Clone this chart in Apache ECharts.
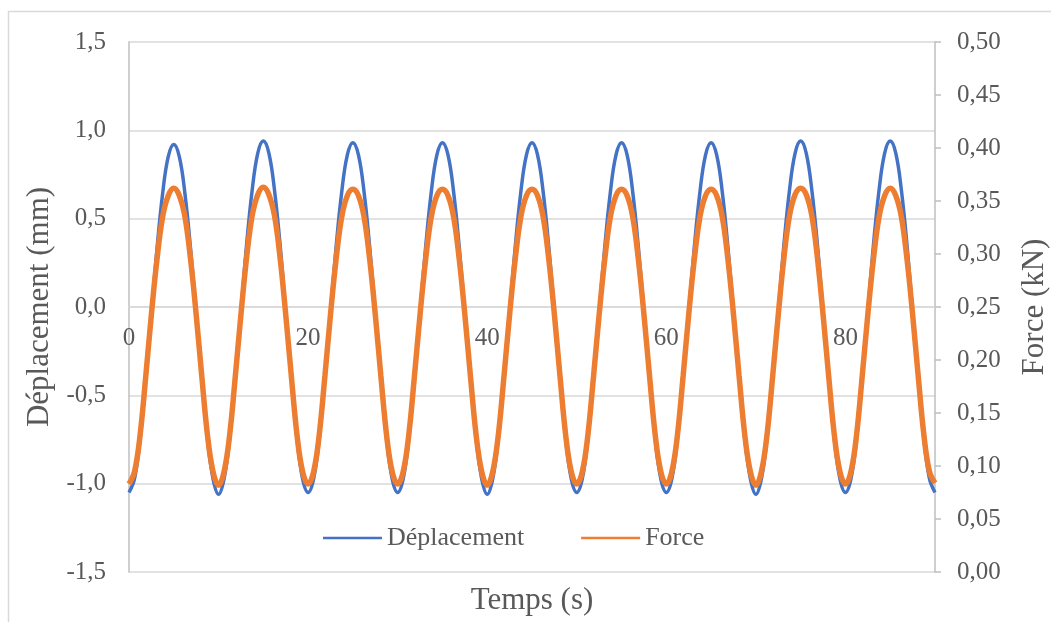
<!DOCTYPE html>
<html>
<head>
<meta charset="utf-8">
<script src="https://cdn.jsdelivr.net/npm/echarts@6/dist/echarts.min.js"></script>
<style>
html,body{margin:0;padding:0;background:#fff;}
#c{width:1051px;height:622px;}
</style>
</head>
<body>
<div id="c"></div>
<script>
// Time (s)
const time = [
  0, 0.625, 1.25, 1.875, 2.5, 3.125, 3.75, 4.375, 5, 5.625, 6.25, 6.875, 7.5, 8.125, 8.75, 9.375,
  10, 10.625, 11.25, 11.875, 12.5, 13.125, 13.75, 14.375, 15, 15.625, 16.25, 16.875, 17.5, 18.125, 18.75, 19.375,
  20, 20.625, 21.25, 21.875, 22.5, 23.125, 23.75, 24.375, 25, 25.625, 26.25, 26.875, 27.5, 28.125, 28.75, 29.375,
  30, 30.625, 31.25, 31.875, 32.5, 33.125, 33.75, 34.375, 35, 35.625, 36.25, 36.875, 37.5, 38.125, 38.75, 39.375,
  40, 40.625, 41.25, 41.875, 42.5, 43.125, 43.75, 44.375, 45, 45.625, 46.25, 46.875, 47.5, 48.125, 48.75, 49.375,
  50, 50.625, 51.25, 51.875, 52.5, 53.125, 53.75, 54.375, 55, 55.625, 56.25, 56.875, 57.5, 58.125, 58.75, 59.375,
  60, 60.625, 61.25, 61.875, 62.5, 63.125, 63.75, 64.375, 65, 65.625, 66.25, 66.875, 67.5, 68.125, 68.75, 69.375,
  70, 70.625, 71.25, 71.875, 72.5, 73.125, 73.75, 74.375, 75, 75.625, 76.25, 76.875, 77.5, 78.125, 78.75, 79.375,
  80, 80.625, 81.25, 81.875, 82.5, 83.125, 83.75, 84.375, 85, 85.625, 86.25, 86.875, 87.5, 88.125, 88.75, 89.375,
  90
];
// Déplacement (mm)
const deplacement = [
  -1.05, -0.97, -0.74, -0.40, -0.04, 0.33, 0.64, 0.85, 0.92, 0.85, 0.64, 0.33, -0.04, -0.40, -0.74, -0.97,
  -1.06, -0.97, -0.74, -0.40, -0.03, 0.35, 0.66, 0.87, 0.94, 0.87, 0.66, 0.35, -0.03, -0.40, -0.74, -0.97,
  -1.05, -0.97, -0.74, -0.40, -0.03, 0.34, 0.65, 0.86, 0.93, 0.86, 0.65, 0.34, -0.03, -0.40, -0.74, -0.97,
  -1.05, -0.97, -0.74, -0.40, -0.03, 0.34, 0.65, 0.86, 0.93, 0.86, 0.65, 0.34, -0.03, -0.40, -0.74, -0.97,
  -1.06, -0.97, -0.74, -0.40, -0.03, 0.34, 0.65, 0.86, 0.93, 0.86, 0.65, 0.34, -0.03, -0.40, -0.74, -0.97,
  -1.05, -0.97, -0.74, -0.40, -0.03, 0.34, 0.65, 0.86, 0.93, 0.86, 0.65, 0.34, -0.03, -0.40, -0.74, -0.97,
  -1.05, -0.97, -0.74, -0.40, -0.03, 0.34, 0.65, 0.86, 0.93, 0.86, 0.65, 0.34, -0.03, -0.40, -0.74, -0.97,
  -1.06, -0.97, -0.74, -0.40, -0.03, 0.35, 0.66, 0.87, 0.94, 0.87, 0.66, 0.35, -0.03, -0.40, -0.74, -0.97,
  -1.05, -0.97, -0.74, -0.40, -0.03, 0.35, 0.66, 0.87, 0.94, 0.87, 0.66, 0.35, -0.03, -0.40, -0.74, -0.97,
  -1.05
];
// Force (kN)
const force = [
  0.083, 0.095, 0.130, 0.185, 0.243, 0.295, 0.335, 0.355, 0.362, 0.355, 0.335, 0.295, 0.243, 0.185, 0.130, 0.095,
  0.082, 0.095, 0.130, 0.185, 0.243, 0.296, 0.336, 0.356, 0.363, 0.356, 0.336, 0.296, 0.243, 0.185, 0.130, 0.095,
  0.083, 0.095, 0.130, 0.185, 0.243, 0.295, 0.335, 0.355, 0.361, 0.355, 0.335, 0.295, 0.243, 0.185, 0.130, 0.095,
  0.083, 0.095, 0.130, 0.185, 0.243, 0.295, 0.335, 0.355, 0.361, 0.355, 0.335, 0.295, 0.243, 0.185, 0.130, 0.095,
  0.082, 0.095, 0.130, 0.185, 0.243, 0.295, 0.335, 0.355, 0.361, 0.355, 0.335, 0.295, 0.243, 0.185, 0.130, 0.095,
  0.083, 0.095, 0.130, 0.185, 0.243, 0.295, 0.335, 0.355, 0.361, 0.355, 0.335, 0.295, 0.243, 0.185, 0.130, 0.095,
  0.083, 0.095, 0.130, 0.185, 0.243, 0.295, 0.335, 0.355, 0.361, 0.355, 0.335, 0.295, 0.243, 0.185, 0.130, 0.095,
  0.082, 0.095, 0.130, 0.185, 0.243, 0.296, 0.336, 0.356, 0.362, 0.356, 0.336, 0.296, 0.243, 0.185, 0.130, 0.095,
  0.083, 0.095, 0.130, 0.185, 0.243, 0.295, 0.335, 0.355, 0.362, 0.355, 0.335, 0.295, 0.243, 0.185, 0.130, 0.095,
  0.084
];
const xTicks = { min: 0, max: 90, interval: 20 };
const leftTicks = { min: -1.5, max: 1.5, interval: 0.5 };
const rightTicks = { min: 0, max: 0.5, interval: 0.05 };

const FONT = "'Liberation Serif', 'Times New Roman', serif";
const TXT = '#595959';

const chart = echarts.init(document.getElementById('c'), null, { renderer: 'canvas' });
chart.setOption({
  animation: false,
  backgroundColor: '#ffffff',
  textStyle: { fontFamily: FONT },
  graphic: [{
    type: 'rect', silent: true, z: -1,
    shape: { x: 8.5, y: 11.5, width: 1200, height: 800 },
    style: { fill: 'none', stroke: '#d9d9d9', lineWidth: 1.5 }
  }],
  grid: { left: 129, right: 116, top: 42, bottom: 50, containLabel: false, outerBoundsMode: 'none' },
  legend: {
    left: 318, top: 520,
    itemWidth: 59, itemHeight: 14, itemGap: 57,
    icon: 'path://M0,6 L59,6 L59,8.5 L0,8.5 Z',
    textStyle: { fontFamily: FONT, fontSize: 26, color: TXT },
    data: ['Déplacement', 'Force']
  },
  xAxis: {
    type: 'value', min: xTicks.min, max: xTicks.max, interval: xTicks.interval,
    position: 'bottom', offset: -265,
    name: 'Temps (s)', nameLocation: 'middle', nameGap: 278,
    nameTextStyle: { fontFamily: FONT, fontSize: 31, color: TXT },
    axisLine: { onZero: false, lineStyle: { color: '#d9d9d9', width: 1.5 } },
    axisTick: { show: false },
    splitLine: { show: false },
    axisLabel: { showMaxLabel: false, fontFamily: FONT, fontSize: 25, color: TXT, margin: 19 }
  },
  yAxis: [{
    type: 'value', min: leftTicks.min, max: leftTicks.max, interval: leftTicks.interval,
    position: 'left',
    name: 'Déplacement (mm)', nameLocation: 'middle', nameRotate: 90, nameGap: 67,
    nameTextStyle: { fontFamily: FONT, fontSize: 31, color: TXT },
    axisLine: { show: true, onZero: false, lineStyle: { color: '#bfbfbf', width: 1.5 } },
    axisTick: { show: false },
    splitLine: { show: true, lineStyle: { color: '#d9d9d9', width: 1.5 } },
    axisLabel: { fontFamily: FONT, fontSize: 25, color: TXT, margin: 23,
      formatter: v => v.toFixed(1).replace('.', ',') }
  }, {
    type: 'value', min: rightTicks.min, max: rightTicks.max, interval: rightTicks.interval,
    position: 'right',
    name: 'Force (kN)', nameLocation: 'middle', nameRotate: 90, nameGap: 84,
    nameTextStyle: { fontFamily: FONT, fontSize: 31, color: TXT },
    axisLine: { show: true, onZero: false, lineStyle: { color: '#bfbfbf', width: 1.5 } },
    axisTick: { show: true, inside: false, length: 6, lineStyle: { color: '#bfbfbf', width: 1.5 } },
    splitLine: { show: false },
    axisLabel: { fontFamily: FONT, fontSize: 25, color: TXT, margin: 22,
      formatter: v => v.toFixed(2).replace('.', ',') }
  }],
  series: [{
    name: 'Déplacement', type: 'line', yAxisIndex: 0,
    data: time.map((t, i) => [t, deplacement[i]]),
    smooth: 0.4, showSymbol: false, symbol: 'none',
    lineStyle: { color: '#4472c4', width: 3.5 },
    itemStyle: { color: '#4472c4' }, z: 2
  }, {
    name: 'Force', type: 'line', yAxisIndex: 1,
    data: time.map((t, i) => [t, force[i]]),
    smooth: 0.4, showSymbol: false, symbol: 'none',
    lineStyle: { color: '#ed7d31', width: 5.5 },
    itemStyle: { color: '#ed7d31' }, z: 3
  }]
});
</script>
</body>
</html>
